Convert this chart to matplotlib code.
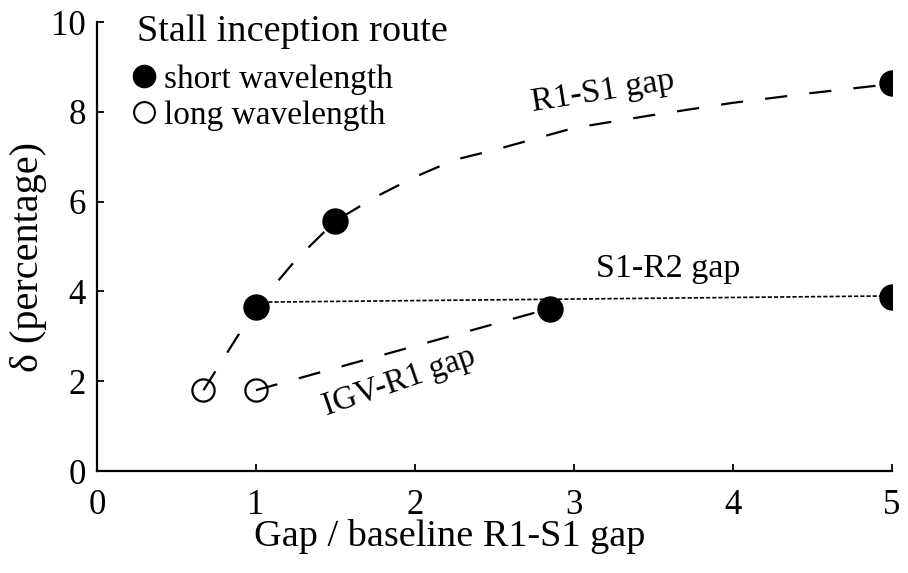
import numpy as np
import matplotlib
matplotlib.use("Agg")
import matplotlib.pyplot as plt
from matplotlib.lines import Line2D

plt.rcParams['font.family'] = ['Liberation Serif', 'DejaVu Serif']

# measured points
short_x = [1.0, 1.5, 2.85, 5.0, 5.0]
short_y = [3.65, 5.57, 3.6, 8.65, 3.88]
long_x = [0.67, 1.0]
long_y = [1.8, 1.8]

# trend lines
r1s1_x = [0.67, 1.0, 1.25, 1.5, 1.75, 2.0, 2.25, 2.5, 3.0, 3.5, 4.0, 4.5, 5.0]
r1s1_y = [1.8, 3.65, 4.7, 5.57, 6.1, 6.55, 6.93, 7.15, 7.64, 7.93, 8.2, 8.42, 8.62]
igv_x = [1.0, 2.85]
igv_y = [1.8, 3.62]
s1r2_x = [1.0, 5.0]
s1r2_y = [3.76, 3.9]

fig = plt.figure(figsize=(9.08, 5.73), dpi=100)
ax = fig.add_axes([0.1068, 0.178, 0.8755, 0.7836])

ax.plot(r1s1_x, r1s1_y, color='black', lw=1.6, dashes=[10, 10])
ax.plot(igv_x, igv_y, color='black', lw=1.6, dashes=[10, 10])
ax.plot(s1r2_x, s1r2_y, color='black', lw=1.2, dashes=[2.5, 1.2])

ax.plot(long_x, long_y, 'o', ms=16, mfc='none', mec='black', mew=1.6)
ax.plot(short_x, short_y, 'o', ms=18, color='black')

ax.text(3.18, 8.45, 'R1-S1 gap', fontsize=24.5, rotation=9, ha='center', va='center')
ax.text(3.59, 4.5, 'S1-R2 gap', fontsize=24.5, ha='center', va='center')
ax.text(1.9, 1.98, 'IGV-R1 gap', fontsize=23.5, rotation=19, ha='center', va='center')

ax.set_xlim(0, 5)
ax.set_ylim(0, 10)
ax.set_xticks([0, 1, 2, 3, 4, 5])
ax.set_yticks([0, 2, 4, 6, 8, 10])
ax.spines['top'].set_visible(False)
ax.spines['right'].set_visible(False)
ax.spines['left'].set_linewidth(1.6)
ax.spines['bottom'].set_linewidth(1.6)
ax.tick_params(direction='in', length=5, width=1.3, labelsize=25)
ax.tick_params(axis='x', pad=13)
ax.tick_params(axis='y', pad=8)

ax.set_xlabel('Gap / baseline R1-S1 gap', fontsize=27.5)
ax.xaxis.set_label_coords(0.444, -0.108)
ax.set_ylabel('δ (percentage)', fontsize=29)
ax.yaxis.set_label_coords(-0.063, 0.477)

ax.text(0.050, 0.958, 'Stall inception route', fontsize=27.5, transform=ax.transAxes,
        ha='left', va='baseline')
handles = [Line2D([], [], ls='none', marker='o', ms=16, color='black'),
           Line2D([], [], ls='none', marker='o', ms=15, mfc='none', mec='black', mew=1.5)]
leg = ax.legend(handles, ['short wavelength', 'long wavelength'],
                loc='upper left', bbox_to_anchor=(0.046, 0.905), frameon=False, fontsize=24,
                handlelength=0.6, handletextpad=0.3, labelspacing=0.15,
                borderaxespad=0, borderpad=0)

fig.savefig('out.png', dpi=100)
